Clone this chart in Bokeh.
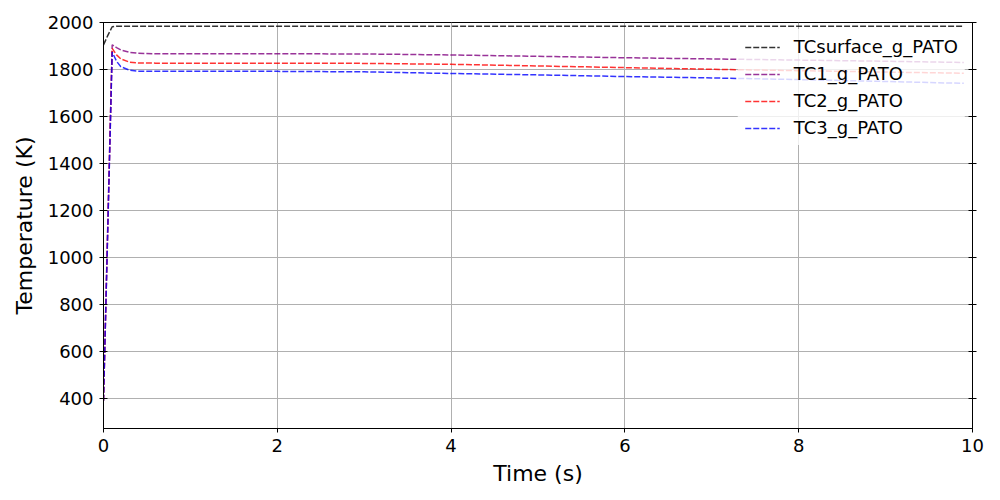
from bokeh.plotting import figure
from bokeh.models import LinearAxis, Range1d, Legend, LegendItem, FixedTicker
from bokeh.embed import file_html
from bokeh.resources import INLINE

time_s = [0.0, 0.05, 0.1, 0.15, 0.2, 0.3, 0.4, 0.6, 1.0, 2.0, 3.0, 4.0, 5.0, 6.0, 7.0, 8.0, 9.0, 9.9]
tc_surface = [1905, 1945, 1982, 1984, 1984, 1984, 1984, 1984, 1984, 1984, 1984, 1984, 1984, 1984, 1984, 1984, 1984, 1984]
tc1 = [390, 1150, 1905, 1893, 1883, 1873, 1869, 1867, 1867, 1867, 1866, 1862, 1856, 1850, 1845, 1840, 1835, 1830]
tc2 = [390, 1140, 1890, 1862, 1845, 1831, 1828, 1827, 1827, 1827, 1826, 1822, 1815, 1808, 1801, 1795, 1789, 1784]
tc3 = [390, 1130, 1874, 1835, 1812, 1797, 1793, 1792, 1792, 1792, 1790, 1783, 1777, 1770, 1764, 1757, 1749, 1741]

series_names = ["TCsurface_g_PATO", "TC1_g_PATO", "TC2_g_PATO", "TC3_g_PATO"]
series_colors = ["#000000", "#800080", "#ff0000", "#0000ff"]
x_ticks = [0, 2, 4, 6, 8, 10]
y_ticks = [400, 600, 800, 1000, 1200, 1400, 1600, 1800, 2000]

FONT = "DejaVu Sans"

p = figure(width=1000, height=500, output_backend="svg", toolbar_location=None,
           x_range=Range1d(0, 10), y_range=Range1d(272, 2000),
           min_border_left=103, min_border_right=28, min_border_top=22, min_border_bottom=72,
           frame_width=869, frame_height=406)
p.outline_line_color = "black"
p.outline_line_width = 1

renderers = []
for ys, name, col in zip([tc_surface, tc1, tc2, tc3], series_names, series_colors):
    r = p.line(time_s, ys, line_color=col, line_width=1.5, line_dash="6 2", line_alpha=0.8)
    renderers.append((name, r))

# axes styling
for ax in [p.xaxis[0], p.yaxis[0]]:
    ax.axis_line_color = "black"
    ax.major_tick_line_color = "black"
    ax.minor_tick_line_color = None
    ax.major_label_text_font = FONT
    ax.major_label_text_font_size = "18px"
    ax.major_label_text_color = "black"
    ax.axis_label_text_font = FONT
    ax.axis_label_text_font_size = "22px"
    ax.axis_label_text_font_style = "normal"
    ax.axis_label_text_color = "black"

p.xaxis[0].ticker = FixedTicker(ticks=x_ticks)
p.yaxis[0].ticker = FixedTicker(ticks=y_ticks)
p.xaxis[0].axis_label = "Time (s)"
p.yaxis[0].axis_label = "Temperature (K)"
p.xaxis[0].major_tick_out = 4
p.xaxis[0].major_tick_in = 0
p.yaxis[0].major_tick_out = 4
p.yaxis[0].major_tick_in = 4
p.xaxis[0].major_label_standoff = 6
p.yaxis[0].major_label_standoff = 6
p.xaxis[0].axis_label_standoff = 6
p.yaxis[0].axis_label_standoff = 8

right = LinearAxis(ticker=FixedTicker(ticks=y_ticks), major_label_text_color=None,
                   major_tick_out=4, major_tick_in=4, minor_tick_line_color=None,
                   axis_line_color="black", major_tick_line_color="black")
p.add_layout(right, "right")

p.xgrid.ticker = FixedTicker(ticks=x_ticks)
p.ygrid.ticker = FixedTicker(ticks=y_ticks)
for g in [p.xgrid[0], p.ygrid[0]]:
    g.grid_line_color = "#b0b0b0"
    g.grid_line_width = 1

legend = Legend(items=[LegendItem(label=n, renderers=[r]) for n, r in renderers],
                location="top_right")
legend.label_text_font = FONT
legend.label_text_font_size = "18px"
legend.label_text_color = "black"
legend.background_fill_color = "white"
legend.background_fill_alpha = 0.8
legend.border_line_alpha = 0
legend.glyph_width = 35
legend.glyph_height = 20
legend.label_height = 20
legend.spacing = 6
legend.padding = 7
legend.margin = 7
legend.label_standoff = 14
p.add_layout(legend)

open("out.html", "w").write(file_html(p, INLINE))
